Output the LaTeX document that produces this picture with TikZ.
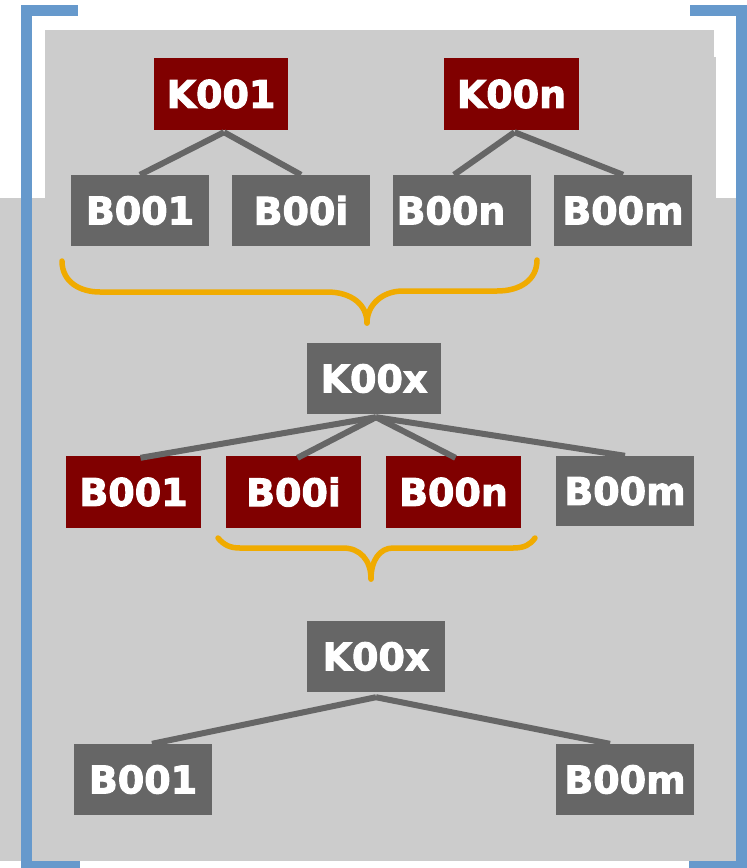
\documentclass[tikz,border=0pt]{standalone}
\usepackage{fontspec}
\setmainfont{DejaVu Sans}
\newfontfamily\heavyfont{DejaVu Sans Bold}[FakeBold=2.6]
\usetikzlibrary{calc}
\definecolor{dred}{HTML}{800000}
\definecolor{dgrey}{HTML}{666666}
\definecolor{bggrey}{HTML}{CCCCCC}
\definecolor{frameblue}{HTML}{6699CC}
\definecolor{braceor}{HTML}{F0AB00}
\tikzset{
  box/.style={inner sep=0pt, text=white, font=\heavyfont\fontsize{38}{40}\selectfont},
  redbox/.style={box, fill=dred},
  greybox/.style={box, fill=dgrey},
  link/.style={draw=dgrey, line width=6pt},
  bracepath/.style={draw=braceor, line width=5.5pt, line cap=round, line join=round},
}
\begin{document}
\begin{tikzpicture}[x=1pt,y=-1pt]
\useasboundingbox (0,0) rectangle (747,868);
% backgrounds
\fill[bggrey] (45,30) rectangle (714,198);
\fill[bggrey] (714,57) rectangle (716,198);
\fill[bggrey] (0,198) rectangle (737,861);
% frame brackets
\fill[frameblue] (21,5) rectangle (78,16);
\fill[frameblue] (21,5) rectangle (32,868);
\fill[frameblue] (21,861) rectangle (80,868);
\fill[frameblue] (690,5) rectangle (747,16);
\fill[frameblue] (736,5) rectangle (747,868);
\fill[frameblue] (689,861) rectangle (747,868);
% row 1
\node[redbox, minimum width=134pt, minimum height=72pt] (k001) at (221,94) {K001};
\node[redbox, minimum width=135pt, minimum height=72pt] (k00n) at (511.5,94) {K00n};
% row 2
\node[greybox, minimum width=138pt, minimum height=71pt] (r2b001) at (140,210.5) {B001};
\node[greybox, minimum width=138pt, minimum height=71pt] (r2b00i) at (301,210.5) {B00i};
\node[greybox, minimum width=138pt, minimum height=71pt] (r2b00n) at (462,210.5) {\hspace*{-22pt}B00n};
\node[greybox, minimum width=138pt, minimum height=71pt] (r2b00m) at (623,210.5) {B00m};
% row 3
\node[greybox, minimum width=134pt, minimum height=71pt] (k00x) at (374,378.5) {K00x};
\node[redbox, minimum width=135pt, minimum height=72pt] (r3b001) at (133.5,492) {B001};
\node[redbox, minimum width=135pt, minimum height=72pt] (r3b00i) at (293.5,492) {B00i};
\node[redbox, minimum width=135pt, minimum height=72pt] (r3b00n) at (453.5,492) {B00n};
\node[greybox, minimum width=138pt, minimum height=70pt] (r3b00m) at (625,491) {B00m};
% row 4
\node[greybox, minimum width=138pt, minimum height=71pt] (k00xb) at (376,656.5) {K00x};
\node[greybox, minimum width=138pt, minimum height=71pt] (r4b001) at (143,779.5) {B001};
\node[greybox, minimum width=138pt, minimum height=71pt] (r4b00m) at (625,779.5) {B00m};
% connectors row 1-2
\coordinate (a1) at ($(k001.south)+(3,2)$);
\coordinate (a2) at ($(k00n.south)+(3,2)$);
\draw[link] (a1) -- (r2b001.north);
\draw[link] (a1) -- (r2b00i.north);
\draw[link] (a2) -- ($(r2b00n.north)+(-8,0)$);
\draw[link] (a2) -- (r2b00m.north);
% connectors row 3
\coordinate (a3) at ($(k00x.south)+(2,3)$);
\draw[link] (a3) -- ($(r3b001.north)+(7,2)$);
\draw[link] (a3) -- ($(r3b00i.north)+(4,2)$);
\draw[link] (a3) -- ($(r3b00n.north)+(2,2)$);
\draw[link] (a3) -- ($(r3b00m.north)+(0,0)$);
% connectors row 4
\coordinate (a4) at ($(k00xb.south)+(0,5)$);
\draw[link] (a4) -- ($(r4b001.north)+(9,0)$);
\draw[link] (a4) -- ($(r4b00m.north)+(-15,0)$);
% braces
\draw[bracepath] (62,261) .. controls (62,282) and (80,292) .. (100,292) -- (327,292)
  .. controls (352,292) and (367,305) .. (367,323);
\draw[bracepath] (367,323) .. controls (367,305) and (382,291) .. (403,291) -- (497,291)
  .. controls (520,291) and (537,280) .. (537,260);
\draw[bracepath] (218,538) .. controls (224,545) and (230,548) .. (240,548) -- (343,548)
  .. controls (360,548) and (371,560) .. (371,579);
\draw[bracepath] (371,579) .. controls (371,560) and (380,548) .. (393,548) -- (513,548)
  .. controls (524,548) and (530,545) .. (535,538);
\end{tikzpicture}
\end{document}
